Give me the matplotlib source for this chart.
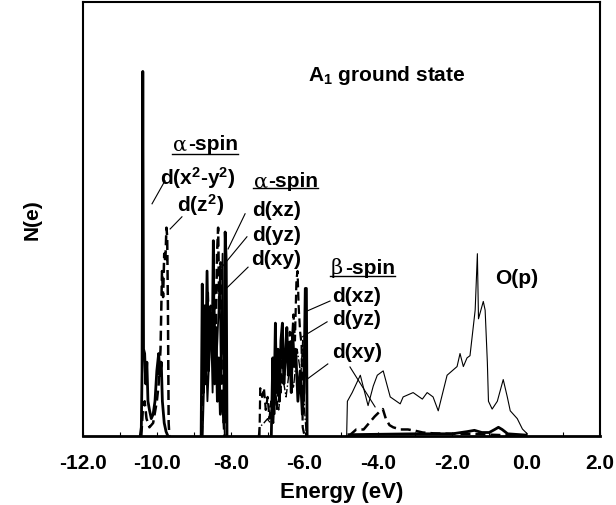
import numpy as np
import matplotlib.pyplot as plt

plt.rcParams['font.family'] = ['Liberation Sans', 'DejaVu Sans']
plt.rcParams['font.weight'] = 'bold'
plt.rcParams['axes.unicode_minus'] = False
plt.rcParams['mathtext.default'] = 'regular'

# alpha-spin d(x2-y2) and d(z2), around -10 eV
a_x2y2_e = [-10.45, -10.42, -10.40, -10.38, -10.36, -10.33, -10.30, -10.27, -10.24, -10.20,
            -10.15, -10.10, -10.05, -10.00, -9.95, -9.92, -9.88, -9.85, -9.80, -9.75, -9.70]
a_x2y2_n = [0, 2, 15, 84, 20, 19, 12, 17, 8, 6, 4, 5, 8, 15, 19, 14, 17, 8, 3, 1, 0]

a_z2_e = [-10.42, -10.38, -10.33, -10.28, -10.20, -10.10, -10.00, -9.95, -9.90, -9.86,
          -9.83, -9.80, -9.77, -9.74, -9.72, -9.70, -9.68, -9.66]
a_z2_n = [0, 6, 8, 4, 2, 3, 8, 12, 20, 38, 32, 42, 40, 48, 46, 30, 3, 0]

# alpha-spin d(xz), d(yz), d(xy), around -8.4 eV
a_xz_e = [-8.80, -8.77, -8.74, -8.71, -8.68, -8.64, -8.60, -8.55, -8.50, -8.47,
          -8.44, -8.40, -8.36, -8.32, -8.28, -8.22, -8.18, -8.15, -8.12, -8.10]
a_xz_n = [0, 35, 10, 30, 12, 38, 15, 28, 20, 45, 12, 25, 8, 18, 5, 10, 3, 47, 40, 0]

a_yz_e = [-8.78, -8.74, -8.70, -8.66, -8.62, -8.58, -8.54, -8.50, -8.45, -8.41,
          -8.37, -8.34, -8.31, -8.27, -8.24, -8.20, -8.17]
a_yz_n = [0, 20, 28, 15, 33, 22, 30, 18, 35, 20, 42, 48, 30, 40, 12, 5, 0]

a_xy_e = [-8.76, -8.72, -8.68, -8.63, -8.58, -8.53, -8.49, -8.44, -8.40, -8.36,
          -8.30, -8.26, -8.22, -8.19, -8.16]
a_xy_n = [0, 12, 22, 8, 18, 25, 10, 30, 15, 22, 35, 12, 42, 8, 0]

# beta-spin d(xz), d(yz), d(xy), around -6.5 eV
b_xz_e = [-6.90, -6.86, -6.83, -6.79, -6.76, -6.72, -6.68, -6.64, -6.60, -6.56, -6.52, -6.48,
          -6.44, -6.40, -6.36, -6.32, -6.28, -6.24, -6.18, -6.12, -6.06, -6.02, -5.98, -5.95, -5.93]
b_xz_n = [0, 18, 5, 26, 10, 20, 8, 22, 26, 12, 18, 25, 14, 21, 10, 24, 16, 20, 8, 15, 5, 10, 34, 34, 0]

b_yz_e = [-7.22, -7.20, -7.15, -7.10, -7.05, -7.00, -6.95, -6.90, -6.85, -6.80, -6.75, -6.70,
          -6.65, -6.60, -6.55, -6.50, -6.45, -6.40, -6.35, -6.30, -6.26, -6.22, -6.19, -6.16,
          -6.12, -6.08, -6.05, -6.00]
b_yz_n = [0, 11, 9, 11, 6, 9, 4, 8, 3, 12, 6, 16, 10, 18, 14, 20, 17, 24, 20, 28, 22, 36, 38, 30,
          24, 21, 2, 0]

b_xy_e = [-7.25, -7.22, -7.10, -7.00, -6.95, -6.90, -6.85, -6.80, -6.70, -6.60, -6.50, -6.40,
          -6.30, -6.20, -6.10, -6.05, -6.00, -5.95]
b_xy_n = [0, 2, 3, 4, 3, 6, 4, 10, 6, 14, 9, 16, 11, 20, 14, 22, 6, 0]

# O(p) band
op_e = [-4.86, -4.84, -4.71, -4.49, -4.28, -4.14, -4.03, -3.87, -3.68, -3.41, -3.33, -3.06,
        -2.81, -2.68, -2.52, -2.38, -2.14, -1.87, -1.79, -1.70, -1.60, -1.52, -1.38, -1.32,
        -1.29, -1.16, -1.11, -1.05, -1.02, -0.92, -0.78, -0.62, -0.51, -0.43, -0.24, -0.10, 0.03]
op_n = [0, 8, 10, 14, 7, 11.5, 14, 15, 9, 7.4, 9, 10, 8.5, 10, 9, 5.8, 14, 16, 19, 16, 18, 18.5,
        29, 42, 27, 31, 29, 17, 8, 6.2, 8, 13, 9, 5.8, 4, 1.6, 0.5]

# beta-spin d tail under the O(p) band
b_tail_e = [-4.80, -4.60, -4.40, -4.25, -4.10, -3.98, -3.88, -3.80, -3.70, -3.60, -3.40, -3.20,
            -3.00, -2.80, -2.50, -2.00, -1.50, -1.00, 0.00]
b_tail_n = [0, 1.5, 1.5, 3, 4.5, 5.5, 6.2, 4, 2.5, 2, 1.5, 1.5, 1.2, 0.8, 0.6, 0.5, 0.5, 0.3, 0]

a_tail_e = [-4.80, -3.00, -2.00, -1.60, -1.40, -1.20, -1.00, -0.85, -0.75, -0.65, -0.50, 0.00]
a_tail_n = [0.3, 0.5, 0.5, 1.0, 1.3, 0.8, 0.8, 1.5, 2.0, 1.5, 0.5, 0.2]

xticks = [-12, -10, -8, -6, -4, -2, 0, 2]

fig = plt.figure(figsize=(6.16, 5.06), dpi=100)
ax = fig.add_axes([0.1347, 0.1364, 0.8393, 0.8577])

ax.plot(a_x2y2_e, a_x2y2_n, color='black', lw=2.0)
ax.plot(a_z2_e, a_z2_n, color='black', lw=1.8, ls=(0, (4, 2)))
ax.plot(a_xz_e, a_xz_n, color='black', lw=2.0)
ax.plot(a_yz_e, a_yz_n, color='black', lw=1.8, ls=(0, (4, 2)))
ax.plot(a_xy_e, a_xy_n, color='black', lw=1.3)
ax.plot(b_xz_e, b_xz_n, color='black', lw=2.0)
ax.plot(b_yz_e, b_yz_n, color='black', lw=1.6, ls=(0, (4, 2)))
ax.plot(b_xy_e, b_xy_n, color='black', lw=1.0, ls='-.')
ax.plot(op_e, op_n, color='black', lw=0.8)
ax.plot(b_tail_e, b_tail_n, color='black', lw=1.8, ls=(0, (4, 2)))
ax.plot(a_tail_e, a_tail_n, color='black', lw=2.0)

ax.set_xlim(-12, 2)
ax.set_ylim(0, 100)
ax.set_xticks(xticks)
ax.set_xticklabels([f"{v:.1f}" for v in xticks])
ax.set_xticks(np.arange(-11, 2, 2), minor=True)
ax.tick_params(axis='x', which='both', direction='in', length=3, width=0.8, labelsize=15, pad=12)
ax.set_yticks([])
for s in ax.spines.values():
    s.set_linewidth(1.5)
ax.spines['bottom'].set_linewidth(2.0)

ax.set_xlabel('Energy (eV)', fontsize=16, fontweight='bold', labelpad=7)
ax.set_ylabel('N(e)', fontsize=15, fontweight='bold', labelpad=30)

tk = dict(fontsize=15, fontweight='bold', ha='center', va='center')
ax.text(-3.77, 83.2, 'A$_1$ ground state', **tk)
ax.text(-0.25, 36.6, 'O(p)', **tk)

# spin headings with underline
for cx, cy, uy, x0, x1, greek in [(-8.70, 67.3, 65.0, -9.59, -7.80, 'α'),
                                  (-6.52, 58.8, 57.1, -7.40, -5.64, 'α'),
                                  (-4.44, 38.9, 36.9, -5.31, -3.55, 'β')]:
    ax.text(x0 + 0.02, cy, greek, fontsize=15, fontweight='normal', family='DejaVu Serif',
            ha='left', va='center')
    ax.text(x1, cy, '-spin', fontsize=15, fontweight='bold', ha='right', va='center')
    ax.plot([x0, x1], [uy, uy], color='black', lw=1.0)

ax.text(-8.89, 59.7, 'd(x$^2$-y$^2$)', **tk)
ax.text(-8.83, 53.5, 'd(z$^2$)', **tk)
ax.text(-6.77, 52.3, 'd(xz)', **tk)
ax.text(-6.77, 46.5, 'd(yz)', **tk)
ax.text(-6.77, 40.8, 'd(xy)', **tk)
ax.text(-4.58, 32.3, 'd(xz)', **tk)
ax.text(-4.58, 27.0, 'd(yz)', **tk)
ax.text(-4.58, 19.4, 'd(xy)', **tk)

leaders = [((-9.78, 58.8), (-10.13, 53.5)),
           ((-9.32, 50.5), (-9.64, 47.7)),
           ((-7.61, 51.2), (-8.07, 43.1)),
           ((-7.56, 45.9), (-8.24, 38.9)),
           ((-7.53, 38.9), (-8.13, 33.9)),
           ((-5.31, 31.1), (-5.93, 28.8)),
           ((-5.39, 26.3), (-6.07, 22.8)),
           ((-5.37, 16.6), (-5.93, 13.1)),
           ((-4.77, 15.9), (-4.09, 6.7))]
for (xa, ya), (xb, yb) in leaders:
    ax.plot([xa, xb], [ya, yb], color='black', lw=0.8)

fig.savefig('out.png', dpi=100)
